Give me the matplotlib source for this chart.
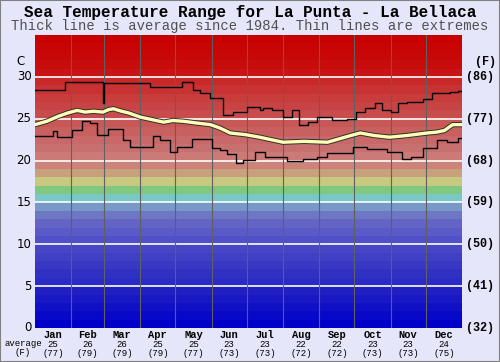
import numpy as np
import matplotlib.pyplot as plt
import matplotlib.patheffects as pe

# Data
months = ['Jan', 'Feb', 'Mar', 'Apr', 'May', 'Jun', 'Jul', 'Aug', 'Sep', 'Oct', 'Nov', 'Dec']
avg_c = [25, 26, 26, 25, 25, 23, 23, 22, 22, 23, 23, 24]
avg_f = [77, 79, 79, 79, 77, 73, 73, 72, 72, 73, 73, 75]
month_start = [0, 31, 59, 90, 120, 151, 181, 212, 243, 273, 304, 334, 365]

max_day = [0, 26, 58, 59, 98, 126, 135, 141, 150, 161, 169, 181, 192, 195, 203, 212, 220, 226,
           233, 241, 254, 267, 274, 282, 291, 297, 304, 310, 318, 332, 339, 355, 362, 365]
max_temp = [28.4, 29.4, 26.9, 29.3, 28.8, 29.4, 28.4, 28.1, 27.5, 25.4, 25.8, 26.4, 26.0, 26.3,
            26.0, 25.2, 26.0, 24.3, 24.6, 25.2, 24.9, 25.0, 25.8, 26.3, 26.9, 26.0, 25.8, 26.9,
            27.0, 27.4, 28.1, 28.2, 28.3, 28.3]

min_day = [0, 15, 19, 32, 40, 47, 53, 62, 75, 81, 101, 107, 115, 121, 134, 151, 158, 164, 172,
           178, 184, 188, 197, 215, 229, 241, 250, 272, 284, 301, 314, 321, 332, 344, 352, 362, 365]
min_temp = [22.9, 23.5, 22.8, 23.7, 24.7, 24.5, 23.1, 23.8, 22.5, 21.6, 22.9, 22.5, 21.0, 21.6,
            22.6, 21.5, 21.3, 20.8, 19.7, 20.1, 20.1, 21.0, 20.4, 20.0, 20.2, 20.4, 20.9, 21.6,
            21.4, 21.0, 20.2, 20.4, 21.5, 22.5, 22.2, 22.7, 22.7]

avg_day = [0, 5, 10, 15, 20, 28, 36, 43, 50, 58, 63, 67, 74, 80, 90, 100, 110, 118, 127, 138,
           150, 158, 167, 180, 192, 202, 212, 230, 250, 260, 270, 278, 290, 303, 318, 335, 343,
           350, 357, 365]
avg_temp = [24.3, 24.5, 24.7, 25.0, 25.3, 25.7, 26.0, 25.8, 25.9, 25.8, 26.1, 26.2, 25.9, 25.7,
            25.2, 24.9, 24.6, 24.8, 24.7, 24.5, 24.3, 23.9, 23.3, 23.1, 22.8, 22.5, 22.2, 22.3,
            22.2, 22.6, 23.0, 23.3, 23.0, 22.8, 23.0, 23.3, 23.4, 23.6, 24.3, 24.3]

# background band colours, one per degree C from 0 up
band_colors = [
    '#0000c8', '#0808c8', '#1010c6', '#1818c4', '#2020c2',
    '#2a2ac4', '#3030c2', '#3838c4', '#4040c4', '#4646c6',
    '#5050c8', '#5a5ac8', '#6464c4', '#6c78c4', '#7898c8',
    '#78c8c8', '#80c880', '#c8c880', '#c8a07c', '#cc8478',
    '#cc7a78', '#c87070', '#c86868', '#c86060', '#c85858',
    '#c84c4c', '#c84444', '#c83c3c', '#c83232', '#c82828',
    '#c81414', '#c80c0c', '#c80808', '#c80404', '#c80000',
]

fig = plt.figure(figsize=(5, 3.62), dpi=100, facecolor='#e6e6fa')
ax = fig.add_axes([0.07, 0.094, 0.854, 0.809])

for i, c in enumerate(band_colors):
    ax.axhspan(i, i + 1, color=c, lw=0, zorder=0)
for t in range(5, 35, 5):
    ax.axhline(t, color='white', lw=1.2, zorder=1)
for d in month_start[1:-1]:
    ax.axvline(d, color='#606060', lw=0.8, zorder=1)

ax.plot(max_day, max_temp, drawstyle='steps-post', color='black', lw=1, zorder=3)
ax.plot(min_day, min_temp, drawstyle='steps-post', color='black', lw=1, zorder=3)
ax.plot(avg_day, avg_temp, color='#ffffb8', lw=2.4, zorder=4,
        path_effects=[pe.Stroke(linewidth=3.8, foreground='#303030'), pe.Normal()])

ax.set_xlim(0, 365)
ax.set_ylim(0, 35)
ax.set_xticks([])
ax.set_yticks([])
for s in ax.spines.values():
    s.set_visible(False)

# left axis labels (C)
for t in range(0, 35, 5):
    ax.text(-3, t, str(t), ha='right', va='center', fontsize=8.5, family='DejaVu Sans',
            clip_on=False)
ax.text(-12, 31.8, 'C', ha='center', va='center', fontsize=8.5, clip_on=False)

# right axis labels (F)
for t in range(0, 35, 5):
    f = round(t * 9 / 5 + 32)
    ax.text(368, t, '(%d)' % f, ha='left', va='center', fontsize=8.5, family='Liberation Mono',
            weight='bold', clip_on=False)
ax.text(385, 31.8, '(F)', ha='center', va='center', fontsize=8.5, family='Liberation Mono',
        weight='bold', clip_on=False)

# month labels with averages
for i, m in enumerate(months):
    mid = (month_start[i] + month_start[i + 1]) / 2
    ax.text(mid, -0.25, m, ha='center', va='top', fontsize=7.5, family='Liberation Mono',
            weight='bold', clip_on=False)
    ax.text(mid, -1.45, str(avg_c[i]), ha='center', va='top', fontsize=6.5,
            family='Liberation Mono', clip_on=False)
    ax.text(mid, -2.55, '(%d)' % avg_f[i], ha='center', va='top', fontsize=6.5,
            family='Liberation Mono', clip_on=False)
fig.text(0.046, 0.052, 'average', ha='center', va='center', fontsize=6.5, family='Liberation Mono')
fig.text(0.046, 0.025, '(F)', ha='center', va='center', fontsize=6.5, family='Liberation Mono')

# titles
fig.text(0.5, 0.965, 'Sea Temperature Range for La Punta - La Bellaca', ha='center', va='center',
         fontsize=11.5, family='Liberation Mono', weight='bold')
fig.text(0.5, 0.927, 'Thick line is average since 1984. Thin lines are extremes', ha='center',
         va='center', fontsize=10, family='Liberation Mono', color='#505050')

fig.patches.append(plt.Rectangle((0, 0), 1, 1, transform=fig.transFigure, fill=False,
                                 edgecolor='#808080', lw=1.5))

fig.savefig('out.png', dpi=100, facecolor=fig.get_facecolor())
